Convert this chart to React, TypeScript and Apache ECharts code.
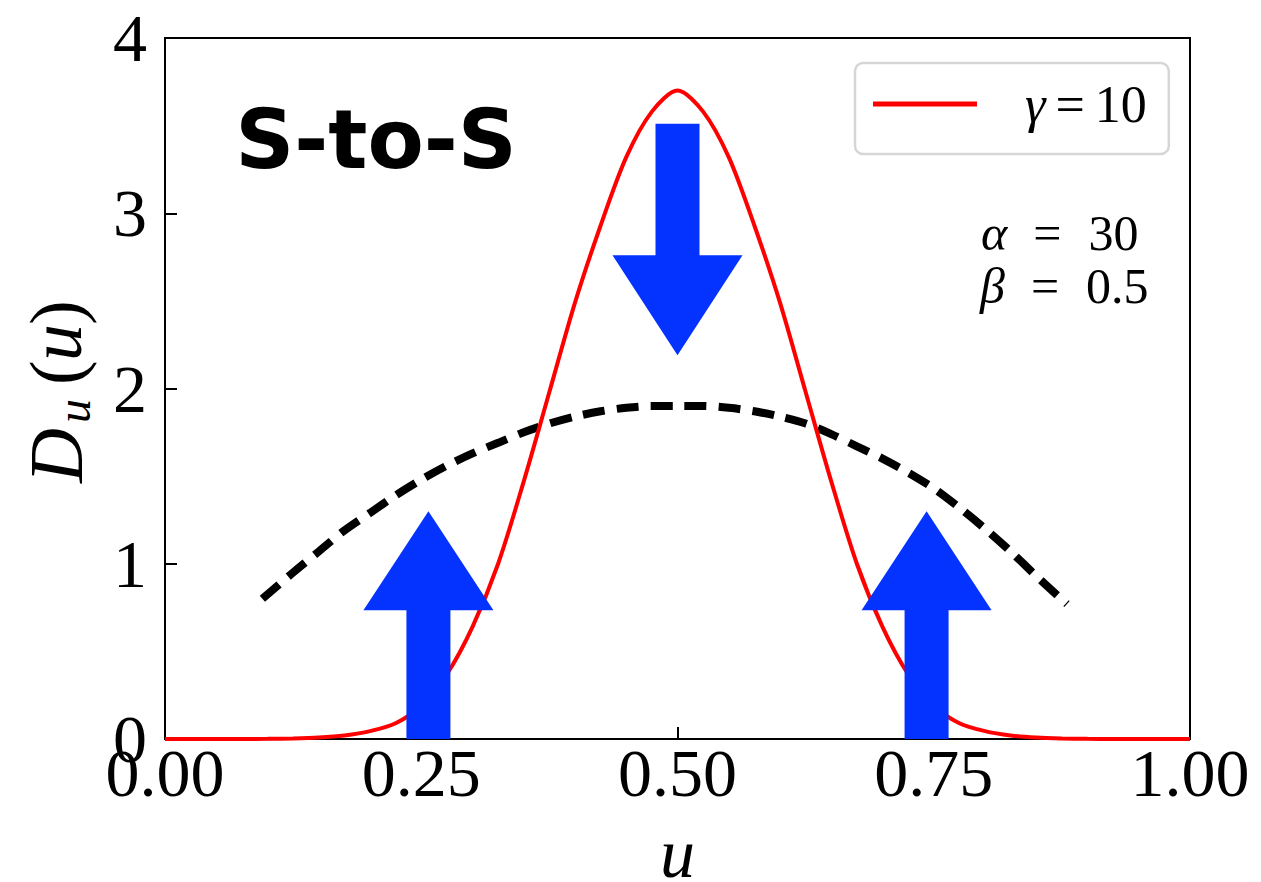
import React, { useEffect, useRef } from "react";
import * as echarts from "echarts";

// Sample positions along u for the γ = 10 profile
const uGrid = [
  0, 0.025, 0.05, 0.075, 0.1, 0.125, 0.15, 0.175, 0.2, 0.225, 0.25, 0.275, 0.3, 0.325, 0.35, 0.375, 0.4,
  0.425, 0.45, 0.475, 0.5, 0.525, 0.55, 0.575, 0.6, 0.625, 0.65, 0.675, 0.7, 0.725, 0.75, 0.775, 0.8,
  0.825, 0.85, 0.875, 0.9, 0.925, 0.95, 0.975, 1,
];
// D_u(u) for γ = 10
const gammaCurve = [
  0, 0, 0, 0.0005, 0.001, 0.003, 0.008, 0.02, 0.045, 0.09, 0.19, 0.37, 0.64, 1.0, 1.47, 1.98, 2.49,
  2.93, 3.32, 3.58, 3.7, 3.58, 3.32, 2.93, 2.49, 1.98, 1.47, 1.0, 0.64, 0.37, 0.19, 0.09, 0.045,
  0.02, 0.008, 0.003, 0.001, 0.0005, 0, 0, 0,
];

// Reference (dashed) profile
const uDashed = [
  0.095, 0.125, 0.15, 0.175, 0.2, 0.225, 0.25, 0.275, 0.3, 0.325, 0.35, 0.375, 0.4, 0.425, 0.45, 0.475,
  0.5, 0.525, 0.55, 0.575, 0.6, 0.625, 0.65, 0.675, 0.7, 0.725, 0.75, 0.775, 0.8, 0.825, 0.85, 0.88,
];
const dDashed = [
  0.8, 0.95, 1.07, 1.19, 1.29, 1.39, 1.48, 1.56, 1.63, 1.69, 1.75, 1.8, 1.84, 1.87, 1.89, 1.9,
  1.9, 1.9, 1.89, 1.87, 1.84, 1.8, 1.74, 1.67, 1.6, 1.52, 1.43, 1.32, 1.2, 1.07, 0.93, 0.77,
];

const xTicks = [0, 0.25, 0.5, 0.75, 1];
const yTicks = [0, 1, 2, 3, 4];

// Block arrows: position, tail, start of head, tip (in D_u units)
const arrowU = [0.257, 0.5, 0.743];
const arrowTail = [0, 3.51, 0];
const arrowHeadBase = [0.735, 2.76, 0.735];
const arrowTip = [1.3, 2.19, 1.3];

const SERIF = "'Liberation Serif', 'Times New Roman', serif";
const BLUE = "#0433ff";

export default function App() {
  const ref = useRef<HTMLDivElement>(null);

  useEffect(() => {
    document.body.style.margin = "0";
    if (!ref.current) return;
    const chart = echarts.init(ref.current, null, { renderer: "svg" });

    const shaftHalf = 22;
    const headHalf = 65;

    const eqRich = (lead: string) => ({
      [lead]: { fontFamily: SERIF, fontStyle: "italic", fontSize: 50 },
      s: { fontFamily: SERIF, fontSize: 50, padding: [0, 27, 0, 26] },
      n: { fontFamily: SERIF, fontSize: 50 },
    });

    chart.setOption({
      animation: false,
      backgroundColor: "#ffffff",
      grid: {
        left: 165,
        right: 71,
        top: 38,
        bottom: 143,
        show: true,
        borderColor: "#000",
        borderWidth: 2,
        backgroundColor: "transparent",
        containLabel: false,
        outerBoundsMode: "none",
      },
      xAxis: {
        type: "value",
        min: xTicks[0],
        max: xTicks[xTicks.length - 1],
        interval: 0.25,
        name: "u",
        nameLocation: "middle",
        nameGap: 94,
        nameTextStyle: { fontFamily: SERIF, fontStyle: "italic", fontSize: 70, lineHeight: 40, color: "#000" },
        axisLine: { show: true, lineStyle: { color: "#000", width: 2 } },
        axisTick: { show: true, inside: true, length: 12, lineStyle: { color: "#000", width: 2 } },
        splitLine: { show: false },
        axisLabel: {
          fontFamily: SERIF,
          fontSize: 68,
          color: "#000",
          margin: 0,
          formatter: (v: number) => v.toFixed(2),
        },
      },
      yAxis: {
        type: "value",
        min: yTicks[0],
        max: yTicks[yTicks.length - 1],
        interval: 1,
        axisLine: { show: true, lineStyle: { color: "#000", width: 2 } },
        axisTick: { show: true, inside: true, length: 12, lineStyle: { color: "#000", width: 2 } },
        splitLine: { show: false },
        axisLabel: { fontFamily: SERIF, fontSize: 68, color: "#000", margin: 18 },
      },
      legend: {
        left: 855,
        top: 63,
        data: ["γ = 10"],
        icon: "rect",
        itemWidth: 104,
        itemHeight: 5,
        padding: [15, 22, 24, 18],
        borderColor: "#d6d6d6",
        borderWidth: 2.5,
        borderRadius: 8,
        backgroundColor: "#ffffff",
        formatter: () => "{g|γ}{s|=}{t|10}",
        textStyle: {
          lineHeight: 50,
          rich: {
            g: { fontFamily: SERIF, fontStyle: "italic", fontSize: 52, color: "#000", padding: [0, 0, 0, 43] },
            s: { fontFamily: SERIF, fontSize: 52, color: "#000", padding: [0, 10, 0, 10] },
            t: { fontFamily: SERIF, fontSize: 52, color: "#000" },
          },
        },
      },
      series: [
        {
          name: "reference",
          type: "line",
          data: uDashed.map((u, i) => [u, dDashed[i]]),
          showSymbol: false,
          symbol: "none",
          smooth: 0.3,
          silent: true,
          z: 2,
          lineStyle: { color: "#000", width: 8, type: [22, 12], cap: "butt" },
        },
        {
          name: "γ = 10",
          type: "line",
          data: uGrid.map((u, i) => [u, gammaCurve[i]]),
          showSymbol: false,
          symbol: "none",
          smooth: 0.3,
          z: 3,
          itemStyle: { color: "#ff0000" },
          lineStyle: { color: "#ff0000", width: 4 },
        },
        {
          name: "arrows",
          type: "custom",
          z: 4,
          silent: true,
          clip: false,
          data: arrowU.map((u, i) => [u, arrowTail[i], arrowHeadBase[i], arrowTip[i]]),
          renderItem: (_params: any, api: any) => {
            const u = api.value(0);
            const tail = api.coord([u, api.value(1)]);
            const head = api.coord([u, api.value(2)]);
            const tip = api.coord([u, api.value(3)]);
            const x = tail[0];
            return {
              type: "polygon",
              shape: {
                points: [
                  [x - shaftHalf, tail[1]],
                  [x + shaftHalf, tail[1]],
                  [x + shaftHalf, head[1]],
                  [x + headHalf, head[1]],
                  [x, tip[1]],
                  [x - headHalf, head[1]],
                  [x - shaftHalf, head[1]],
                ],
              },
              style: { fill: BLUE },
            };
          },
        },
      ],
      graphic: [
        {
          type: "text",
          x: 376,
          y: 139,
          z: 10,
          style: {
            text: "S-to-S",
            fontFamily: "'DejaVu Sans', sans-serif",
            fontWeight: "bold",
            fontSize: 82,
            fill: "#000",
            align: "center",
            verticalAlign: "middle",
          },
        },
        {
          type: "text",
          x: 981,
          y: 233,
          z: 10,
          style: {
            text: "{a|α}{s|=}{n|30}",
            fontFamily: SERIF,
            fontSize: 50,
            fill: "#000",
            align: "left",
            verticalAlign: "middle",
            rich: eqRich("a"),
          },
        },
        {
          type: "text",
          x: 980,
          y: 286,
          z: 10,
          style: {
            text: "{b|β}{s|=}{n|0.5}",
            fontFamily: SERIF,
            fontSize: 50,
            fill: "#000",
            align: "left",
            verticalAlign: "middle",
            rich: eqRich("b"),
          },
        },
        {
          type: "group",
          x: 80,
          y: 483,
          rotation: Math.PI / 2,
          children: [
            {
              type: "text",
              x: 0,
              y: -24,
              style: { text: "D", fontFamily: SERIF, fontStyle: "italic", fontSize: 76, fill: "#000", align: "left", verticalAlign: "middle" },
            },
            {
              type: "text",
              x: 60,
              y: -7,
              style: { text: "u", fontFamily: SERIF, fontStyle: "italic", fontSize: 48, fill: "#000", align: "left", verticalAlign: "middle" },
            },
            {
              type: "text",
              x: 98,
              y: -24,
              style: { text: "(", fontFamily: SERIF, fontSize: 74, fill: "#000", align: "left", verticalAlign: "middle" },
            },
            {
              type: "text",
              x: 122,
              y: -24,
              style: { text: "u", fontFamily: SERIF, fontStyle: "italic", fontSize: 74, fill: "#000", align: "left", verticalAlign: "middle" },
            },
            {
              type: "text",
              x: 158,
              y: -24,
              style: { text: ")", fontFamily: SERIF, fontSize: 74, fill: "#000", align: "left", verticalAlign: "middle" },
            },
          ],
        },
      ],
    });

    return () => chart.dispose();
  }, []);

  return <div ref={ref} style={{ width: 1261, height: 882 }} />;
}
